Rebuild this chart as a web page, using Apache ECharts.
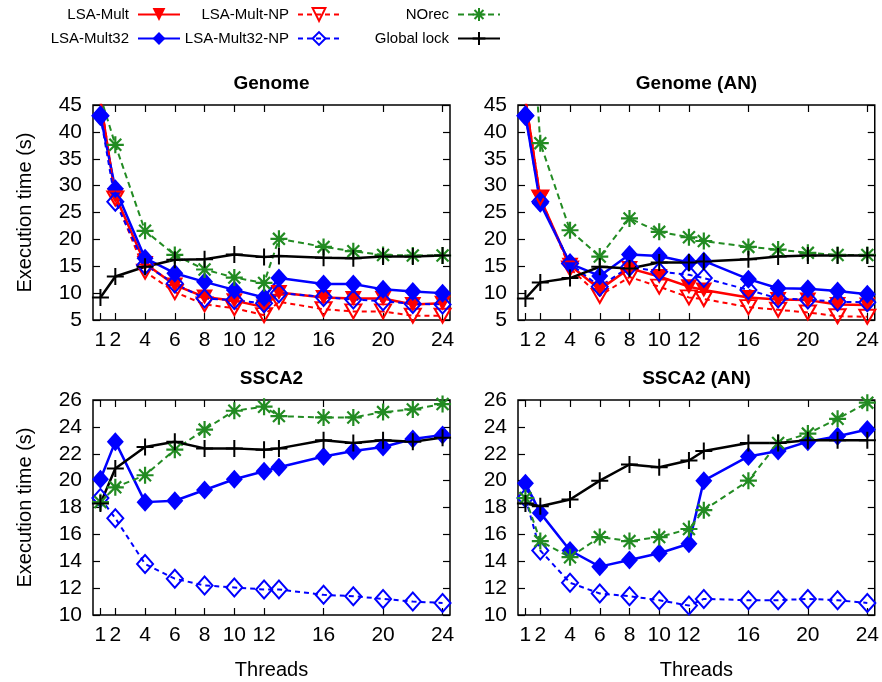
<!DOCTYPE html>
<html>
<head>
<meta charset="utf-8">
<script src="https://cdn.jsdelivr.net/npm/echarts@6/dist/echarts.min.js"></script>
<style>
html,body{margin:0;padding:0;background:#fff;}
#chart{width:882px;height:682px;}
</style>
</head>
<body>
<div id="chart"></div>
<script>
// ---- data ----
const threads = [1, 2, 4, 6, 8, 10, 12, 13, 16, 18, 20, 22, 24];
const xTickLabels = [1, 2, 4, 6, 8, 10, 12, 16, 20, 24];
const panelTitles = ['Genome', 'Genome (AN)', 'SSCA2', 'SSCA2 (AN)'];
const seriesNames = ['LSA-Mult', 'LSA-Mult32', 'LSA-Mult-NP', 'LSA-Mult32-NP', 'NOrec', 'Global lock'];

// Genome
const genome_LSAMult     = [45.8, 28.1, 15.5, 11.5, 9.3, 8.6, 7.4, 10.1, 9.2, 9.0, 9.0, 7.9, 8.1];
const genome_LSAMult32   = [43.0, 29.4, 16.5, 13.7, 12.1, 10.6, 9.2, 12.8, 11.7, 11.7, 10.7, 10.3, 10.0];
const genome_LSAMultNP   = [46.5, 27.6, 14.0, 10.2, 7.9, 7.2, 5.9, 8.4, 7.0, 6.6, 6.6, 5.8, 5.8];
const genome_LSAMult32NP = [43.0, 27.0, 15.2, 11.8, 9.0, 8.7, 8.1, 10.0, 9.3, 8.8, 8.5, 8.0, 7.9];
const genome_NOrec       = [46.6, 37.6, 21.6, 17.1, 14.4, 12.9, 11.9, 20.1, 18.6, 17.8, 17.1, 17.0, 17.0];
const genome_GlobalLock  = [9.2, 13.1, 14.9, 16.2, 16.3, 17.2, 16.7, 16.9, 16.6, 16.5, 16.8, 16.8, 17.0];

// Genome (AN)
const genomeAN_LSAMult     = [46.0, 27.6, 15.2, 10.7, 14.6, 13.1, 11.2, 10.6, 9.2, 8.8, 8.7, 7.9, 7.8];
const genomeAN_LSAMult32   = [43.1, 26.7, 15.5, 13.2, 17.2, 16.9, 15.7, 16.0, 12.6, 10.9, 10.8, 10.4, 9.8];
const genomeAN_LSAMultNP   = [46.5, 27.8, 14.6, 9.5, 13.0, 11.2, 9.2, 8.9, 7.4, 6.9, 6.4, 5.7, 5.6];
const genomeAN_LSAMult32NP = [43.0, 27.0, 15.5, 11.2, 14.9, 14.0, 13.4, 12.8, 10.6, 9.0, 8.8, 8.4, 8.3];
const genomeAN_NOrec       = [80.0, 37.9, 21.7, 16.8, 23.9, 21.4, 20.4, 19.7, 18.6, 18.1, 17.5, 17.1, 17.1];
const genomeAN_GlobalLock  = [9.0, 12.0, 12.8, 14.9, 14.6, 15.7, 15.7, 15.9, 16.3, 16.8, 17.0, 17.0, 17.0];

// SSCA2
const ssca2_LSAMult32   = [20.1, 22.9, 18.4, 18.5, 19.3, 20.1, 20.7, 21.0, 21.8, 22.2, 22.5, 23.1, 23.4];
const ssca2_LSAMult32NP = [18.7, 17.2, 13.8, 12.7, 12.2, 12.05, 11.9, 11.9, 11.5, 11.4, 11.2, 11.0, 10.9];
const ssca2_NOrec       = [18.4, 19.5, 20.4, 22.3, 23.8, 25.2, 25.5, 24.8, 24.7, 24.7, 25.1, 25.3, 25.7];
const ssca2_GlobalLock  = [18.3, 20.9, 22.5, 22.9, 22.4, 22.4, 22.3, 22.4, 23.0, 22.8, 23.0, 22.9, 23.2];

// SSCA2 (AN)
const ssca2AN_LSAMult32   = [19.8, 17.6, 14.8, 13.6, 14.1, 14.6, 15.3, 20.0, 21.8, 22.2, 22.9, 23.3, 23.8];
const ssca2AN_LSAMult32NP = [18.7, 14.8, 12.4, 11.6, 11.4, 11.1, 10.7, 11.2, 11.1, 11.1, 11.2, 11.1, 10.9];
const ssca2AN_NOrec       = [18.7, 15.5, 14.3, 15.8, 15.5, 15.8, 16.4, 17.8, 20.0, 22.8, 23.5, 24.6, 25.8];
const ssca2AN_GlobalLock  = [18.3, 18.1, 18.6, 20.0, 21.2, 21.0, 21.5, 22.2, 22.8, 22.8, 23.0, 23.0, 23.0];

// ---- styles ----
const FONT = "'Liberation Sans', Arial, Helvetica, sans-serif";
const RED = '#ff0000', BLUE = '#0000ff', GREEN = '#228b22', BLACK = '#000000';
const ASTERISK = 'path://M0,-10L0,10M-10,0L10,0M-7,-7L7,7M-7,7L7,-7';
const PLUS = 'path://M0,-10L0,10M-10,0L10,0';

const styles = {
  'LSA-Mult': {
    symbol: 'triangle', symbolRotate: 180, symbolSize: [17, 15],
    itemStyle: {color: RED},
    lineStyle: {color: RED, width: 2.5, type: 'solid'}
  },
  'LSA-Mult32': {
    symbol: 'diamond', symbolSize: [17, 19],
    itemStyle: {color: BLUE},
    lineStyle: {color: BLUE, width: 2.5, type: 'solid'}
  },
  'LSA-Mult-NP': {
    symbol: 'triangle', symbolRotate: 180, symbolSize: [16, 14],
    itemStyle: {color: 'rgba(255,255,255,0)', borderColor: RED, borderWidth: 2},
    lineStyle: {color: RED, width: 2, type: [5, 4]}
  },
  'LSA-Mult32-NP': {
    symbol: 'diamond', symbolSize: [16, 18],
    itemStyle: {color: 'rgba(255,255,255,0)', borderColor: BLUE, borderWidth: 2},
    lineStyle: {color: BLUE, width: 2, type: [5, 4]}
  },
  'NOrec': {
    symbol: ASTERISK, symbolSize: 17,
    itemStyle: {color: 'rgba(255,255,255,0)', borderColor: GREEN, borderWidth: 2.2},
    lineStyle: {color: GREEN, width: 2, type: [6, 4]}
  },
  'Global lock': {
    symbol: PLUS, symbolSize: 17,
    itemStyle: {color: 'rgba(255,255,255,0)', borderColor: BLACK, borderWidth: 2},
    lineStyle: {color: BLACK, width: 2.5, type: 'solid'}
  }
};

const panels = [
  {title: panelTitles[0], ymin: 5, ymax: 45, yint: 5, data: {
    'LSA-Mult': genome_LSAMult, 'LSA-Mult32': genome_LSAMult32, 'LSA-Mult-NP': genome_LSAMultNP,
    'LSA-Mult32-NP': genome_LSAMult32NP, 'NOrec': genome_NOrec, 'Global lock': genome_GlobalLock}},
  {title: panelTitles[1], ymin: 5, ymax: 45, yint: 5, data: {
    'LSA-Mult': genomeAN_LSAMult, 'LSA-Mult32': genomeAN_LSAMult32, 'LSA-Mult-NP': genomeAN_LSAMultNP,
    'LSA-Mult32-NP': genomeAN_LSAMult32NP, 'NOrec': genomeAN_NOrec, 'Global lock': genomeAN_GlobalLock}},
  {title: panelTitles[2], ymin: 10, ymax: 26, yint: 2, data: {
    'LSA-Mult32': ssca2_LSAMult32, 'LSA-Mult32-NP': ssca2_LSAMult32NP,
    'NOrec': ssca2_NOrec, 'Global lock': ssca2_GlobalLock}},
  {title: panelTitles[3], ymin: 10, ymax: 26, yint: 2, data: {
    'LSA-Mult32': ssca2AN_LSAMult32, 'LSA-Mult32-NP': ssca2AN_LSAMult32NP,
    'NOrec': ssca2AN_NOrec, 'Global lock': ssca2AN_GlobalLock}}
];

const gridBoxes = [
  {left: 93, top: 105, width: 357, height: 215},
  {left: 518, top: 105, width: 357, height: 215},
  {left: 93, top: 400, width: 357, height: 215},
  {left: 518, top: 400, width: 357, height: 215}
];

const grid = [], xAxis = [], yAxis = [], series = [], graphic = [];
panels.forEach((p, i) => {
  const g = gridBoxes[i];
  grid.push(Object.assign({show: true, borderColor: '#000', borderWidth: 1.5, backgroundColor: 'transparent', containLabel: false}, g));
  const isBottom = i >= 2, isLeft = i % 2 === 0;
  xAxis.push({
    type: 'value', gridIndex: i, min: 0.5, max: 24.5, position: 'bottom',
    axisLine: {show: false}, splitLine: {show: false},
    axisTick: {show: true, inside: true, length: 7, customValues: xTickLabels, lineStyle: {color: '#000', width: 1.2}},
    axisLabel: {show: true, customValues: xTickLabels, color: '#000', fontSize: 21, fontFamily: FONT, margin: 10},
    name: isBottom ? 'Threads' : '', nameLocation: 'middle', nameGap: 45,
    nameTextStyle: {color: '#000', fontSize: 20, fontFamily: FONT}
  });
  xAxis.push({
    type: 'value', gridIndex: i, min: 0.5, max: 24.5, position: 'top',
    axisLine: {show: false}, splitLine: {show: false},
    axisTick: {show: true, inside: true, length: 7, customValues: xTickLabels, lineStyle: {color: '#000', width: 1.2}},
    axisLabel: {show: false}
  });
  yAxis.push({
    type: 'value', gridIndex: i, min: p.ymin, max: p.ymax, interval: p.yint, position: 'left',
    axisLine: {show: false}, splitLine: {show: false},
    axisTick: {show: true, inside: true, length: 7, lineStyle: {color: '#000', width: 1.2}},
    axisLabel: {color: '#000', fontSize: 21, fontFamily: FONT, margin: 11},
    name: isLeft ? 'Execution time (s)' : '', nameLocation: 'middle', nameGap: 58, nameRotate: 90,
    nameTextStyle: {color: '#000', fontSize: 20, fontFamily: FONT}
  });
  yAxis.push({
    type: 'value', gridIndex: i, min: p.ymin, max: p.ymax, interval: p.yint, position: 'right',
    axisLine: {show: false}, splitLine: {show: false},
    axisTick: {show: true, inside: true, length: 7, lineStyle: {color: '#000', width: 1.2}},
    axisLabel: {show: false}
  });
  seriesNames.forEach(name => {
    const vals = p.data[name];
    if (!vals) return;
    const s = styles[name];
    series.push(Object.assign({
      type: 'line', name: name, xAxisIndex: 2 * i, yAxisIndex: 2 * i,
      data: threads.map((t, k) => [t, vals[k]]),
      clip: true, showAllSymbol: true, animation: false, z: 2
    }, JSON.parse(JSON.stringify(s))));
  });
  graphic.push({
    type: 'text', x: g.left + g.width / 2, y: g.top - 21,
    style: {text: p.title, fill: '#000', font: 'bold 19px ' + FONT, textAlign: 'center', textVerticalAlign: 'middle'}
  });
});

// legends: text then sample (align right), three columns x two rows
const legendPos = [
  {name: 'LSA-Mult', right: 701, top: 7},
  {name: 'LSA-Mult32', right: 701, top: 31},
  {name: 'LSA-Mult-NP', right: 541, top: 7},
  {name: 'LSA-Mult32-NP', right: 541, top: 31},
  {name: 'NOrec', right: 381, top: 7},
  {name: 'Global lock', right: 381, top: 31}
];
const legend = legendPos.map(l => ({
  data: [l.name], right: l.right, top: l.top, align: 'right', orient: 'horizontal',
  padding: 0, itemWidth: 42, itemHeight: 16, selectedMode: false,
  textStyle: {color: '#000', fontSize: 15, fontFamily: FONT, padding: [0, 4, 0, 0]}
}));

const chart = echarts.init(document.getElementById('chart'), null, {renderer: 'canvas'});
chart.setOption({
  animation: false,
  backgroundColor: '#fff',
  grid, xAxis, yAxis, series, legend, graphic
});
</script>
</body>
</html>
